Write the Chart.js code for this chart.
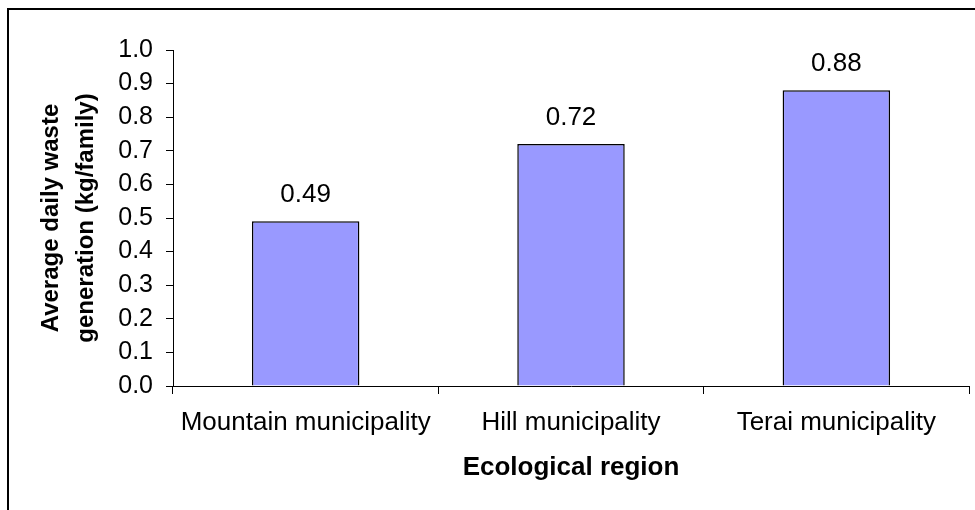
<!DOCTYPE html>
<html>
<head>
<meta charset="utf-8">
<title>Average daily waste generation by ecological region</title>
<script src="https://cdn.jsdelivr.net/npm/chart.js@4/dist/chart.umd.min.js"></script>
<style>
  html, body { margin: 0; padding: 0; background: #fff; }
  canvas { display: block; }
</style>
</head>
<body>
<canvas id="chart" width="975" height="510"></canvas>
<script>
// Categories and measured values
const regions = ['Mountain municipality', 'Hill municipality', 'Terai municipality'];
const wastePerFamily = [0.49, 0.72, 0.88];
const yTicks = [0.0, 0.1, 0.2, 0.3, 0.4, 0.5, 0.6, 0.7, 0.8, 0.9, 1.0];
const yTitle = ['Average daily waste', 'generation (kg/family)'];
const xTitle = 'Ecological region';

const FONT = "'Liberation Sans', Arial, sans-serif";
Chart.defaults.font.family = FONT;
Chart.defaults.color = '#000';

// Frame around the whole figure (top and left edges fall inside the canvas)
const framePlugin = {
  id: 'frame',
  beforeDraw(chart) {
    const ctx = chart.ctx;
    ctx.save();
    ctx.fillStyle = '#fff';
    ctx.fillRect(0, 0, chart.width, chart.height);
    ctx.strokeStyle = '#000';
    ctx.lineWidth = 2;
    ctx.strokeRect(8, 9, chart.width + 20, chart.height + 20);
    ctx.restore();
  }
};

// Value written above each bar
const valueLabels = {
  id: 'valueLabels',
  afterDatasetsDraw(chart) {
    const ctx = chart.ctx;
    const meta = chart.getDatasetMeta(0);
    const data = chart.data.datasets[0].data;
    ctx.save();
    ctx.font = '26px ' + FONT;
    ctx.fillStyle = '#000';
    ctx.textAlign = 'center';
    ctx.textBaseline = 'alphabetic';
    meta.data.forEach((bar, i) => {
      ctx.fillText(data[i].toFixed(2), bar.x, bar.y - 19);
    });
    ctx.restore();
  }
};

new Chart(document.getElementById('chart'), {
  type: 'bar',
  data: {
    labels: regions,
    datasets: [{
      data: wastePerFamily,
      backgroundColor: '#9999FF',
      borderColor: '#000',
      borderWidth: 1.5,
      barPercentage: 0.405,
      categoryPercentage: 1.0
    }]
  },
  options: {
    responsive: false,
    animation: false,
    devicePixelRatio: 1,
    layout: { padding: { top: 50, right: 6, bottom: 0, left: 0 } },
    plugins: {
      legend: { display: false },
      tooltip: { enabled: false },
      title: { display: false }
    },
    scales: {
      x: {
        offset: true,
        grid: {
          offset: true,
          drawOnChartArea: false,
          drawTicks: true,
          tickLength: 8,
          color: '#000',
          lineWidth: 1
        },
        border: { display: true, color: '#000', width: 1 },
        ticks: {
          font: { size: 26 },
          color: '#000',
          padding: 13,
          maxRotation: 0,
          autoSkip: false
        },
        title: {
          display: true,
          text: xTitle,
          font: { size: 26, weight: 'bold' },
          color: '#000',
          padding: { top: 0, bottom: 27 }
        },
        afterFit(scale) { scale.height = 124; }
      },
      y: {
        min: 0,
        max: 1,
        grid: {
          drawOnChartArea: false,
          drawTicks: true,
          tickLength: 7,
          color: '#000',
          lineWidth: 1
        },
        border: { display: true, color: '#000', width: 1 },
        afterBuildTicks(scale) {
          scale.ticks = yTicks.map(v => ({ value: v }));
        },
        ticks: {
          font: { size: 25 },
          color: '#000',
          padding: 13,
          callback: v => Number(v).toFixed(1)
        },
        title: {
          display: true,
          text: yTitle,
          font: { size: 24, weight: 'bold', lineHeight: 1.44 },
          color: '#000',
          padding: { top: 34.5, bottom: 0 }
        },
        afterFit(scale) { scale.width = 173; }
      }
    }
  },
  plugins: [framePlugin, valueLabels]
});
</script>
</body>
</html>
